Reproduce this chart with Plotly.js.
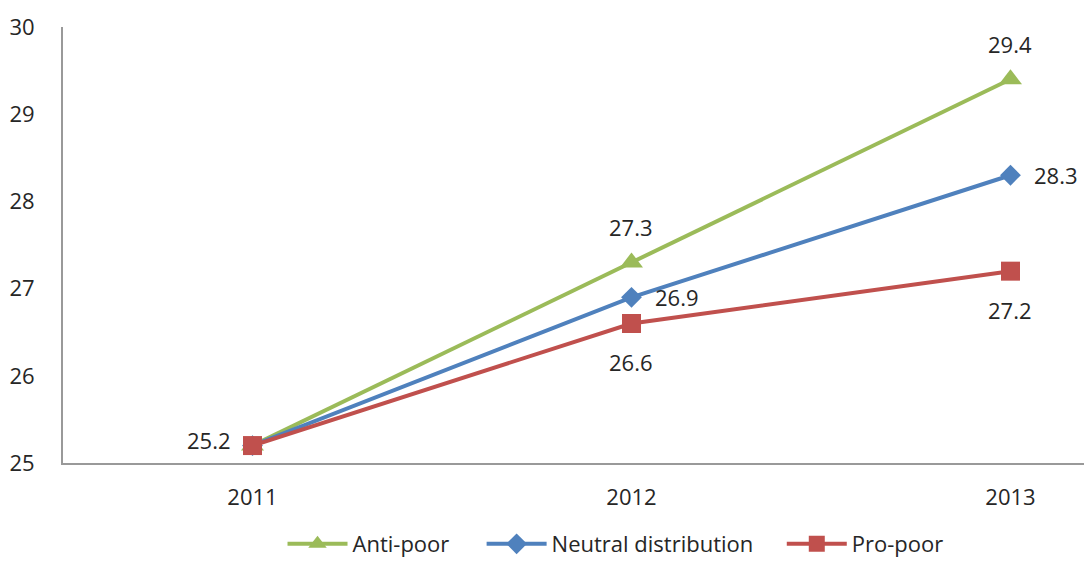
<!DOCTYPE html>
<html><head><meta charset="utf-8">
<script src="https://cdn.plot.ly/plotly-3.0.1.min.js"></script>
<style>html,body{margin:0;padding:0;background:#fff}#chart{width:1084px;height:565px}</style>
</head><body><div id="chart"></div>
<script>
const years = ['2011', '2012', '2013'];
const antiPoor = [25.2, 27.3, 29.4];
const neutral = [25.2, 26.9, 28.3];
const proPoor = [25.2, 26.6, 27.2];
const antiLabels = ['', '27.3', '29.4'];
const neutralLabels = ['', '26.9', '28.3'];
const proLabels = ['25.2', '26.6', '27.2'];
const yTicks = [25, 26, 27, 28, 29, 30];

const font = {family: 'Open Sans, sans-serif', size: 22, color: '#262626'};
function series(name, y, color, symbol, msize, leg) {
  return {
    type: 'scatter', mode: 'lines+markers', name: name, legend: leg,
    x: years, y: y, cliponaxis: false,
    line: {color: color, width: 4},
    marker: {color: color, symbol: symbol, size: msize}
  };
}
const data = [
  series('Anti-poor', antiPoor, '#9BBB59', 'triangle-up', 20, 'legend'),
  series('Neutral distribution', neutral, '#4F81BD', 'diamond', 16, 'legend2'),
  series('Pro-poor', proPoor, '#C0504D', 'square', 19, 'legend3')
];
const annotations = [];
function addLabels(y, labels, pos) {
  labels.forEach((t, i) => {
    if (!t) return;
    const p = pos[i];
    const a = {x: i, y: y[i], xref: 'x', yref: 'y', text: t, showarrow: false, font: font};
    if (p === 'top') { a.yanchor = 'bottom'; a.yshift = 18; }
    if (p === 'bottom') { a.yanchor = 'top'; a.yshift = -22; }
    if (p === 'right') { a.xanchor = 'left'; a.xshift = 22; }
    if (p === 'left') { a.xanchor = 'right'; a.xshift = -20; a.yshift = 6; }
    annotations.push(a);
  });
}
addLabels(antiPoor, antiLabels, ['top', 'top', 'top']);
addLabels(neutral, neutralLabels, ['right', 'right', 'right']);
addLabels(proPoor, proLabels, ['left', 'bottom', 'bottom']);

function leg(x) {
  return {orientation: 'h', x: x, xanchor: 'left', y: -0.234, yanchor: 'bottom', font: font, itemwidth: 60, bgcolor: 'rgba(0,0,0,0)'};
}
const layout = {
  width: 1084, height: 565,
  margin: {l: 63, r: 0, t: 27, b: 102},
  paper_bgcolor: '#fff', plot_bgcolor: '#fff',
  font: font,
  showlegend: true,
  annotations: annotations,
  legend: leg(0.215),
  legend2: leg(0.41),
  legend3: leg(0.704),
  xaxis: {type: 'category', range: [-0.5, 2.194], showgrid: false, zeroline: false,
    showline: true, linecolor: '#999', linewidth: 2, ticks: '', tickfont: font, ticklabelstandoff: 14},
  yaxis: {range: [25, 30], tickvals: yTicks, showgrid: false, zeroline: false,
    showline: true, linecolor: '#999', linewidth: 2, ticks: '', tickfont: font, ticklabelstandoff: 22}
};
Plotly.newPlot('chart', data, layout, {displayModeBar: false, staticPlot: true});
</script></body></html>
